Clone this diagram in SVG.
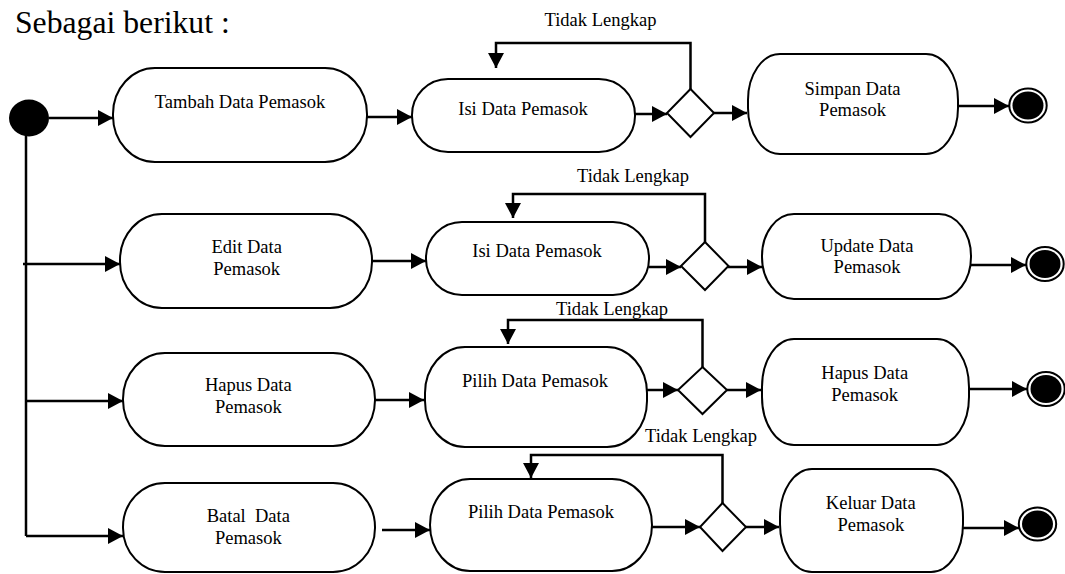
<svg xmlns="http://www.w3.org/2000/svg" width="1065" height="574" viewBox="0 0 1065 574">
<style>
text{font-family:"Liberation Serif","Times New Roman",serif;font-size:18.5px;fill:#000;text-anchor:middle;white-space:pre}
.title{font-size:31.7px;text-anchor:start}
.act{fill:#fff;stroke:#000;stroke-width:2}
.dec{fill:#fff;stroke:#000;stroke-width:2}
.con{fill:none;stroke:#000;stroke-width:2.5}
.arr{marker-end:url(#ah)}
.ring{fill:#fff;stroke:#000;stroke-width:2}
</style>
<defs>
<marker id="ah" markerUnits="userSpaceOnUse" markerWidth="16" markerHeight="17" refX="15" refY="8" orient="auto">
<path d="M0,0 L15,8 L0,16 z" fill="#000"/>
</marker>
</defs>
<rect width="1065" height="574" fill="#fff"/>
<text class="title" x="15" y="33">Sebagai berikut :</text>

<g id="connectors">
<!-- start fan-out -->
<path class="con" d="M26,136 V536"/>
<path class="con arr" d="M49,118 H113"/>
<path class="con arr" d="M23,264 H120"/>
<path class="con arr" d="M26,401 H123"/>
<path class="con arr" d="M26,536 H123"/>
<!-- row 1 -->
<path class="con arr" d="M367,117 H412"/>
<path class="con arr" d="M635,114 H667"/>
<path class="con arr" d="M714,113 H747"/>
<path class="con arr" d="M953,106 H1009"/>
<path class="con arr" d="M690.5,89 V43 H496 V68"/>
<!-- row 2 -->
<path class="con arr" d="M372,261 H426"/>
<path class="con arr" d="M649,267 H681"/>
<path class="con arr" d="M728,267 H762"/>
<path class="con arr" d="M968,265 H1026"/>
<path class="con arr" d="M705,242 V194 H513 V218"/>
<!-- row 3 -->
<path class="con arr" d="M375,400 H424"/>
<path class="con arr" d="M647,390 H678"/>
<path class="con arr" d="M727,390 H761"/>
<path class="con arr" d="M969,389 H1027"/>
<path class="con arr" d="M702.5,367 V320 H508 V344"/>
<!-- row 4 -->
<path class="con arr" d="M382,530 H430"/>
<path class="con arr" d="M652,527 H700"/>
<path class="con arr" d="M746,527 H779"/>
<path class="con arr" d="M963,528 H1019"/>
<path class="con arr" d="M722.5,503 V455 H531 V478"/>
</g>

<g id="start"><ellipse cx="29" cy="118" rx="20" ry="18.5" fill="#000"/></g>

<!-- row 1 -->
<g id="tambah"><rect class="act" x="113" y="68" width="254" height="94" rx="42" ry="46"/><text x="240" y="108">Tambah Data Pemasok</text></g>
<g id="isi1"><rect class="act" x="412" y="79" width="223" height="73" rx="36" ry="36"/><text x="523" y="115">Isi Data Pemasok</text></g>
<g id="dec1"><polygon class="dec" points="690.5,89 714,113 690.5,137 667,113"/></g>
<g id="label1"><text x="600.5" y="26">Tidak Lengkap</text></g>
<g id="simpan"><rect class="act" x="748" y="54" width="210" height="100" rx="32" ry="46"/><text x="852.5" y="95">Simpan Data</text><text x="852.5" y="116">Pemasok</text></g>
<g id="end1"><ellipse class="ring" cx="1028" cy="105.5" rx="18.7" ry="17"/><ellipse cx="1028" cy="105.5" rx="15.5" ry="14" fill="#000"/></g>

<!-- row 2 -->
<g id="edit"><rect class="act" x="120" y="214" width="252" height="94" rx="42" ry="46"/><text x="246.7" y="253">Edit Data</text><text x="246.7" y="275">Pemasok</text></g>
<g id="isi2"><rect class="act" x="426" y="222" width="223" height="73" rx="36" ry="36"/><text x="537" y="257">Isi Data Pemasok</text></g>
<g id="dec2"><polygon class="dec" points="705,242 728.5,266 705,290 681,266"/></g>
<g id="label2"><text x="633" y="182">Tidak Lengkap</text></g>
<g id="update"><rect class="act" x="762" y="214" width="209" height="85" rx="32" ry="42"/><text x="867" y="252">Update Data</text><text x="867" y="273">Pemasok</text></g>
<g id="end2"><ellipse class="ring" cx="1045" cy="264" rx="18.7" ry="17"/><ellipse cx="1045" cy="264" rx="15.5" ry="14" fill="#000"/></g>

<!-- row 3 -->
<g id="hapus1"><rect class="act" x="123" y="353" width="252" height="93" rx="42" ry="46"/><text x="248.3" y="391">Hapus Data</text><text x="248.3" y="413">Pemasok</text></g>
<g id="pilih1"><rect class="act" x="425" y="347" width="222" height="100" rx="40" ry="46"/><text x="535" y="387">Pilih Data Pemasok</text></g>
<g id="dec3"><polygon class="dec" points="702.5,367 727,390 702.5,414 678,390"/></g>
<g id="label3"><text x="612" y="315">Tidak Lengkap</text></g>
<g id="hapus2"><rect class="act" x="762" y="339" width="207" height="106" rx="32" ry="48"/><text x="864.7" y="379">Hapus Data</text><text x="864.7" y="401">Pemasok</text></g>
<g id="end3"><ellipse class="ring" cx="1046" cy="389" rx="18.7" ry="17"/><ellipse cx="1046" cy="389" rx="15.5" ry="14" fill="#000"/></g>

<!-- row 4 -->
<g id="batal"><rect class="act" x="123" y="483" width="252" height="89" rx="42" ry="44"/><text x="248.3" y="521.7">Batal  Data</text><text x="248.3" y="544">Pemasok</text></g>
<g id="pilih2"><rect class="act" x="430" y="479" width="222" height="92" rx="40" ry="46"/><text x="541" y="518">Pilih Data Pemasok</text></g>
<g id="dec4"><polygon class="dec" points="722.5,503 746,527 722.5,551 700,527"/></g>
<g id="label4"><text x="701" y="442">Tidak Lengkap</text></g>
<g id="keluar"><rect class="act" x="780" y="469" width="183" height="103" rx="32" ry="48"/><text x="870.8" y="509">Keluar Data</text><text x="870.8" y="530.7">Pemasok</text></g>
<g id="end4"><ellipse class="ring" cx="1037.5" cy="524" rx="18.7" ry="16.5"/><ellipse cx="1037.5" cy="524" rx="15.5" ry="13.5" fill="#000"/></g>
</svg>
